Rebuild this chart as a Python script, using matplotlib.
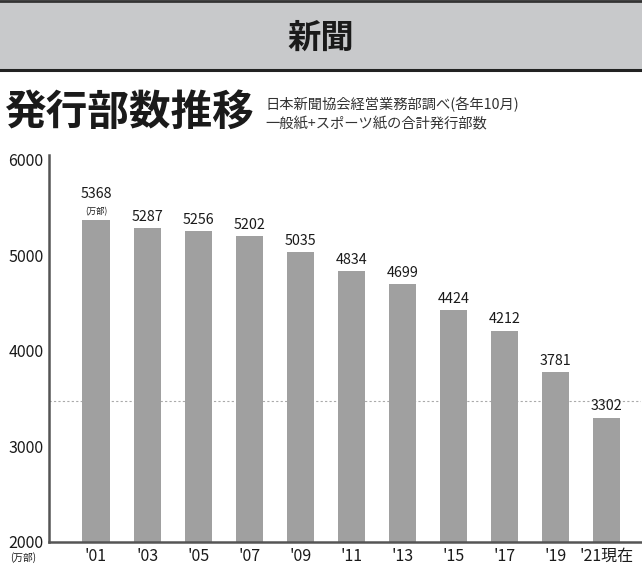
import matplotlib
matplotlib.use("Agg")
import matplotlib.pyplot as plt
from matplotlib.patches import Rectangle
from matplotlib.lines import Line2D

plt.rcParams['font.family'] = ['Noto Sans CJK JP', 'DejaVu Sans']

# data
years = ["'01", "'03", "'05", "'07", "'09", "'11", "'13", "'15", "'17", "'19", "'21現在"]
copies = [5368, 5287, 5256, 5202, 5035, 4834, 4699, 4424, 4212, 3781, 3302]
y_ticks = [2000, 3000, 4000, 5000, 6000]
ref_line = 3480

W, H = 642, 564
fig = plt.figure(figsize=(W / 100, H / 100), dpi=100)

# header band
fig.patches.append(Rectangle((0, 1 - 70 / H), 1, 70 / H, transform=fig.transFigure,
                             facecolor="#c8c9cb", edgecolor="none", zorder=0))
fig.lines.append(Line2D([0, 1], [1 - 1 / H, 1 - 1 / H], transform=fig.transFigure,
                        color="#333333", lw=2))
fig.lines.append(Line2D([0, 1], [1 - 70 / H, 1 - 70 / H], transform=fig.transFigure,
                        color="#222222", lw=2.2))
fig.text(0.5, 1 - 38 / H, "新聞", ha="center", va="center", fontsize=24,
         fontweight="bold", color="#1a1a1a")

# titles
fig.text(4 / W, 1 - 113 / H, "発行部数推移", ha="left", va="center", fontsize=30,
         fontweight="bold", color="#1a1a1a")
fig.text(265 / W, 1 - 104 / H, "日本新聞協会経営業務部調べ(各年10月)", ha="left",
         va="center", fontsize=10.3, color="#333333")
fig.text(265 / W, 1 - 124 / H, "一般紙+スポーツ紙の合計発行部数", ha="left",
         va="center", fontsize=10.3, color="#333333")

# axes
ax = fig.add_axes([49 / W, 1 - 542 / H, (641 - 49) / W, (542 - 155) / H])
x = list(range(len(years)))
ax.axhline(ref_line, color="#aaaaaa", ls=(0, (2, 2)), lw=0.8, zorder=1)
ax.bar(x, copies, width=0.53, color="#a0a0a0", zorder=2)

for xi, v in zip(x, copies):
    off = 14 if xi == 0 else 3
    ax.annotate(str(v), (xi, v), xytext=(0, off), textcoords="offset points",
                ha="center", va="bottom", fontsize=10.3, color="#1a1a1a")
ax.annotate("(万部)", (0, copies[0]), xytext=(0, 3), textcoords="offset points",
            ha="center", va="bottom", fontsize=6, color="#1a1a1a")

ax.set_xlim(-0.92, 10.67)
ax.set_ylim(2000, 6050)
ax.set_yticks(y_ticks)
ax.set_yticklabels([str(t) for t in y_ticks])
ax.set_xticks(x)
ax.set_xticklabels(years)
ax.tick_params(length=0, labelsize=11.5, colors="#1a1a1a")
ax.tick_params(axis="y", pad=4)
ax.tick_params(axis="x", pad=4)
for s in ("top", "right"):
    ax.spines[s].set_visible(False)
for s in ("left", "bottom"):
    ax.spines[s].set_color("#555555")
    ax.spines[s].set_linewidth(1.8)

fig.text(23 / W, 1 - 558 / H, "(万部)", ha="center", va="center", fontsize=7,
         color="#1a1a1a")

fig.savefig("out.png", dpi=100)
